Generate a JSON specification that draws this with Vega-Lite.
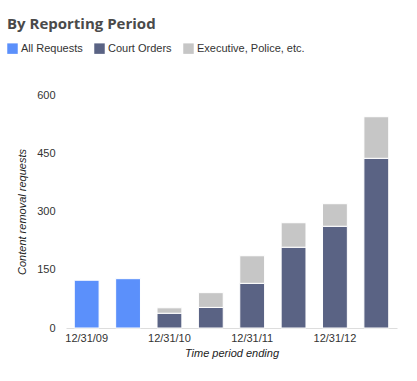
{
  "$schema": "https://vega.github.io/schema/vega-lite/v6.json",
  "width": 331,
  "height": 233,
  "autosize": {"type": "none"},
  "padding": {"left": 66, "top": 95, "right": 20, "bottom": 53},
  "background": "white",
  "title": {
    "text": "By Reporting Period",
    "anchor": "start",
    "frame": "group",
    "dx": -59,
    "offset": 11,
    "font": "Open Sans",
    "fontSize": 15,
    "fontWeight": "bold",
    "color": "#4a4a4a"
  },
  "config": {"view": {"stroke": null}},
  "data": {
    "values": [
      {"period": "12/31/09", "type": "All Requests", "requests": 123},
      {"period": "6/30/10", "type": "All Requests", "requests": 127},
      {"period": "12/31/10", "type": "Court Orders", "requests": 38},
      {"period": "12/31/10", "type": "Executive, Police, etc.", "requests": 14},
      {"period": "6/30/11", "type": "Court Orders", "requests": 53},
      {"period": "6/30/11", "type": "Executive, Police, etc.", "requests": 38},
      {"period": "12/31/11", "type": "Court Orders", "requests": 115},
      {"period": "12/31/11", "type": "Executive, Police, etc.", "requests": 71},
      {"period": "6/30/12", "type": "Court Orders", "requests": 208},
      {"period": "6/30/12", "type": "Executive, Police, etc.", "requests": 63},
      {"period": "12/31/12", "type": "Court Orders", "requests": 262},
      {"period": "12/31/12", "type": "Executive, Police, etc.", "requests": 58},
      {"period": "6/30/13", "type": "Court Orders", "requests": 437},
      {"period": "6/30/13", "type": "Executive, Police, etc.", "requests": 107}
    ]
  },
  "mark": {"type": "bar", "stroke": "white", "strokeWidth": 1},
  "encoding": {
    "x": {
      "field": "period",
      "type": "ordinal",
      "sort": null,
      "scale": {"paddingInner": 0.4, "paddingOuter": 0.2},
      "axis": {
        "values": ["12/31/09", "12/31/10", "12/31/11", "12/31/12"],
        "labelAngle": 0,
        "ticks": false,
        "domainColor": "#dddddd",
        "labelFont": "Liberation Sans",
        "labelFontSize": 11,
        "labelColor": "#333333",
        "labelPadding": 4,
        "title": "Time period ending",
        "titleFont": "Liberation Sans",
        "titleFontSize": 11,
        "titleFontStyle": "italic",
        "titleFontWeight": "normal",
        "titleColor": "#222222",
        "titlePadding": 4
      }
    },
    "y": {
      "field": "requests",
      "type": "quantitative",
      "stack": "zero",
      "scale": {"domain": [0, 600], "nice": false},
      "axis": {
        "values": [0, 150, 300, 450, 600],
        "grid": false,
        "domain": false,
        "ticks": false,
        "labelFont": "Liberation Sans",
        "labelFontSize": 11,
        "labelColor": "#333333",
        "labelPadding": 11,
        "title": "Content removal requests",
        "titleFont": "Liberation Sans",
        "titleFontSize": 11,
        "titleFontStyle": "italic",
        "titleFontWeight": "normal",
        "titleColor": "#222222",
        "titlePadding": 9
      }
    },
    "order": {"field": "type", "sort": "ascending"},
    "color": {
      "field": "type",
      "type": "nominal",
      "scale": {
        "domain": ["All Requests", "Court Orders", "Executive, Police, etc."],
        "range": ["#5b90fb", "#5a6384", "#c6c6c6"]
      },
      "legend": {
        "title": null,
        "orient": "none",
        "legendX": -59,
        "legendY": -52,
        "direction": "horizontal",
        "symbolType": "square",
        "symbolSize": 110,
        "symbolStrokeWidth": 0,
        "symbolOpacity": 1,
        "labelFont": "Liberation Sans",
        "labelFontSize": 11,
        "labelColor": "#333333",
        "labelOffset": 3,
        "columnPadding": 11
      }
    }
  }
}
